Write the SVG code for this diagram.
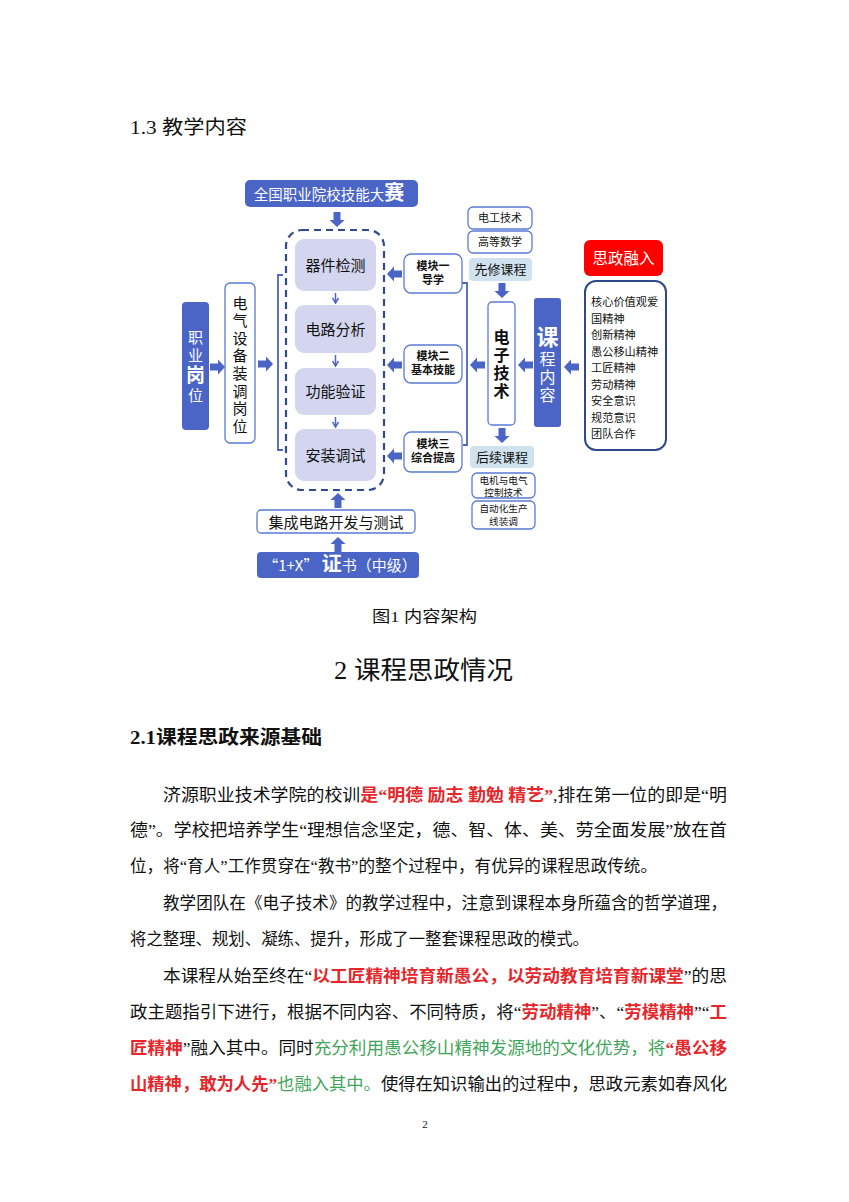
<svg xmlns="http://www.w3.org/2000/svg" width="849" height="1202" viewBox="0 0 849 1202">
<style>
.t{font-family:"Noto Sans CJK SC",sans-serif}
.v{writing-mode:vertical-rl}
.doc{font-family:"Liberation Serif","Noto Sans CJK SC",serif;fill:#111}
.blue{fill:#4a65c5}
.wbox{fill:#fff;stroke:#5a7ad6;stroke-width:1.3}
.lav{fill:#d3d6ee}
.lb{fill:#cfe2ee}
.arr{fill:#4a65c5}
.ln{fill:none;stroke:#4a65c5;stroke-width:1.8}
.red{fill:#e5262b;font-weight:bold}
.grn{fill:#3fa55b}
.w{fill:#fff}
.k{fill:#111}
</style>
<defs>
<path id="ar" d="M0,-3.5 H8 V-7.5 L15,0 L8,7.5 V3.5 H0 Z"/>
<marker id="sm" markerWidth="8" markerHeight="8" refX="6" refY="4" orient="auto" markerUnits="userSpaceOnUse">
<path d="M1,1 L6,4 L1,7" fill="none" stroke="#4a65c5" stroke-width="1.5"/>
</marker>
</defs>
<rect width="849" height="1202" fill="#fff"/>

<text class="doc" x="130" y="134" font-size="19" textLength="117" lengthAdjust="spacingAndGlyphs">1.3 教学内容</text>

<g id="banner-top">
<rect class="blue" x="245" y="180" width="173" height="27" rx="5"/>
<text class="t w" x="329" y="199.5" font-size="14.5" text-anchor="middle">全国职业院校技能大<tspan font-size="20" font-weight="bold">赛</tspan></text>
</g>
<g id="dashed-group">
<rect x="286" y="230" width="98" height="260" rx="16" fill="none" stroke="#2f4b8e" stroke-width="2.2" stroke-dasharray="7 5"/>
</g>
<g id="n-qjjc"><rect class="lav" x="295" y="239" width="81" height="52" rx="9"/><text class="t k" x="335.5" y="270.5" font-size="15" text-anchor="middle">器件检测</text></g>
<g id="n-dlfx"><rect class="lav" x="295" y="305" width="81" height="48" rx="9"/><text class="t k" x="335.5" y="334.5" font-size="15" text-anchor="middle">电路分析</text></g>
<g id="n-gnyz"><rect class="lav" x="295" y="368" width="81" height="47" rx="9"/><text class="t k" x="335.5" y="396.5" font-size="15" text-anchor="middle">功能验证</text></g>
<g id="n-azts"><rect class="lav" x="295" y="429" width="81" height="52" rx="9"/><text class="t k" x="335.5" y="460.5" font-size="15" text-anchor="middle">安装调试</text></g>

<g id="n-zygw">
<rect class="blue" x="182" y="302" width="27" height="128" rx="4"/>
<text class="t w v" x="195.5" y="329.5" font-size="15" letter-spacing="3">职业<tspan font-size="19" font-weight="bold">岗</tspan>位</text>
</g>
<g id="n-dqsb">
<rect class="wbox" x="225" y="283" width="30" height="160" rx="5"/>
<text class="t k v" x="240" y="295.5" font-size="15" letter-spacing="2.6">电气设备装调岗位</text>
</g>

<g id="n-mk1"><rect class="wbox" x="404" y="254" width="58" height="39" rx="7"/><text class="t k" text-anchor="middle" font-size="11" font-weight="bold"><tspan x="433" y="270">模块一</tspan><tspan x="433" y="284">导学</tspan></text></g>
<g id="n-mk2"><rect class="wbox" x="404" y="345" width="58" height="38" rx="7"/><text class="t k" text-anchor="middle" font-size="11" font-weight="bold"><tspan x="433" y="360">模块二</tspan><tspan x="433" y="374">基本技能</tspan></text></g>
<g id="n-mk3"><rect class="wbox" x="404" y="432" width="58" height="40" rx="7"/><text class="t k" text-anchor="middle" font-size="11" font-weight="bold"><tspan x="433" y="448">模块三</tspan><tspan x="433" y="462">综合提高</tspan></text></g>

<g id="n-dgjs"><rect class="wbox" x="468" y="207" width="64" height="22" rx="5"/><text class="t k" x="500" y="222" font-size="11" text-anchor="middle">电工技术</text></g>
<g id="n-gdsx"><rect class="wbox" x="468" y="231" width="64" height="22" rx="5"/><text class="t k" x="500" y="246" font-size="11" text-anchor="middle">高等数学</text></g>
<g id="n-xxkc"><rect class="lb" x="469" y="258" width="63" height="23" rx="4"/><text class="t k" x="500.5" y="274" font-size="13" text-anchor="middle">先修课程</text></g>
<g id="n-dzjs">
<rect class="wbox" x="488" y="302" width="27" height="123" rx="4"/>
<text class="t k v" x="501.5" y="329" font-size="16" font-weight="bold" letter-spacing="2">电子技术</text>
</g>
<g id="n-hxkc"><rect class="lb" x="470" y="446" width="64" height="22" rx="4"/><text class="t k" x="502" y="461.5" font-size="13" text-anchor="middle">后续课程</text></g>
<g id="n-djdq"><rect class="wbox" x="472" y="473" width="63" height="25" rx="5"/><text class="t k" text-anchor="middle" font-size="9.6"><tspan x="503.5" y="483.7">电机与电气</tspan><tspan x="503.5" y="496.2">控制技术</tspan></text></g>
<g id="n-zdh"><rect class="wbox" x="472" y="501" width="63" height="28" rx="5"/><text class="t k" text-anchor="middle" font-size="9.6"><tspan x="503.5" y="512.3">自动化生产</tspan><tspan x="503.5" y="525">线装调</tspan></text></g>

<g id="n-kcnr">
<rect class="blue" x="534" y="298" width="27" height="129" rx="3"/>
<text class="t w v" x="547.5" y="326" font-size="16" letter-spacing="2"><tspan font-size="22" font-weight="bold" letter-spacing="3">课</tspan>程内容</text>
</g>
<g id="n-szrr"><rect x="584" y="240" width="79" height="36" rx="6" fill="#ff0000"/><text class="t w" x="623.5" y="263.5" font-size="15.5" text-anchor="middle">思政融入</text></g>
<g id="n-values">
<rect x="585" y="281" width="81" height="169" rx="11" fill="#fff" stroke="#2e4a8c" stroke-width="2"/>
<text class="t k" font-size="11.2"><tspan x="591" y="306">核心价值观爱</tspan><tspan x="591" y="322.5">国精神</tspan><tspan x="591" y="339">创新精神</tspan><tspan x="591" y="355.5">愚公移山精神</tspan><tspan x="591" y="372">工匠精神</tspan><tspan x="591" y="388.5">劳动精神</tspan><tspan x="591" y="405">安全意识</tspan><tspan x="591" y="421.5">规范意识</tspan><tspan x="591" y="438">团队合作</tspan></text>
</g>

<g id="n-jcdl"><rect class="wbox" x="257" y="510" width="158" height="23" rx="4"/><text class="t k" x="336" y="527.5" font-size="15" text-anchor="middle">集成电路开发与测试</text></g>
<g id="n-zs"><rect class="blue" x="257" y="552" width="162" height="26" rx="4"/><text class="t w" x="340" y="571" font-size="15" text-anchor="middle">“1+X” <tspan font-size="20" font-weight="bold">证</tspan>书（中级）</text></g>

<g id="connectors">
<use href="#ar" class="arr" transform="translate(337,212) rotate(90)"/>
<use href="#ar" class="arr" transform="translate(210,367)"/>
<use href="#ar" class="arr" transform="translate(258,364)"/>
<use href="#ar" class="arr" transform="translate(402,274) rotate(180)"/>
<use href="#ar" class="arr" transform="translate(402,365) rotate(180)"/>
<use href="#ar" class="arr" transform="translate(402,456) rotate(180)"/>
<use href="#ar" class="arr" transform="translate(485,365) rotate(180)"/>
<use href="#ar" class="arr" transform="translate(533,365) rotate(180)"/>
<use href="#ar" class="arr" transform="translate(579,367) rotate(180)"/>
<use href="#ar" class="arr" transform="translate(502,283) rotate(90)"/>
<use href="#ar" class="arr" transform="translate(502,428) rotate(90)"/>
<use href="#ar" class="arr" transform="translate(338,508) rotate(-90)"/>
<use href="#ar" class="arr" transform="translate(338,552) rotate(-90)"/>
<line x1="335.5" y1="293" x2="335.5" y2="303" stroke="#4a65c5" stroke-width="1.5" marker-end="url(#sm)"/>
<line x1="335.5" y1="355" x2="335.5" y2="366" stroke="#4a65c5" stroke-width="1.5" marker-end="url(#sm)"/>
<line x1="335.5" y1="417" x2="335.5" y2="427" stroke="#4a65c5" stroke-width="1.5" marker-end="url(#sm)"/>
<path class="ln" d="M283,275 H278 V450 H283"/>
<path class="ln" d="M462,283 H467 V445 H463"/>
</g>

<text class="doc" x="372" y="622" font-size="15.5" textLength="105" lengthAdjust="spacingAndGlyphs">图1 内容架构</text>
<text class="doc" x="334" y="679" font-size="25" textLength="179" lengthAdjust="spacingAndGlyphs">2 课程思政情况</text>
<text class="doc" x="130" y="744" font-size="19" font-weight="bold" textLength="192" lengthAdjust="spacingAndGlyphs">2.1课程思政来源基础</text>

<g font-size="16.5">
<text class="doc" x="163" y="801" textLength="564" lengthAdjust="spacingAndGlyphs">济源职业技术学院的校训<tspan class="red">是“明德 励志 勤勉 精艺”</tspan>,排在第一位的即是“明</text>
<text class="doc" x="130" y="836" textLength="597" lengthAdjust="spacingAndGlyphs">德”。学校把培养学生“理想信念坚定，德、智、体、美、劳全面发展”放在首</text>
<text class="doc" x="130" y="872" textLength="527" lengthAdjust="spacingAndGlyphs">位，将“育人”工作贯穿在“教书”的整个过程中，有优异的课程思政传统。</text>
<text class="doc" x="163" y="909" textLength="564" lengthAdjust="spacingAndGlyphs">教学团队在《电子技术》的教学过程中，注意到课程本身所蕴含的哲学道理，</text>
<text class="doc" x="130" y="945" textLength="459" lengthAdjust="spacingAndGlyphs">将之整理、规划、凝练、提升，形成了一整套课程思政的模式。</text>
<text class="doc" x="163" y="982" textLength="564" lengthAdjust="spacingAndGlyphs">本课程从始至终在“<tspan class="red">以工匠精神培育新愚公，以劳动教育培育新课堂</tspan>”的思</text>
<text class="doc" x="130" y="1018" textLength="597" lengthAdjust="spacingAndGlyphs">政主题指引下进行，根据不同内容、不同特质，将“<tspan class="red">劳动精神</tspan>”、“<tspan class="red">劳模精神</tspan>”“<tspan class="red">工</tspan></text>
<text class="doc" x="130" y="1054" textLength="597" lengthAdjust="spacingAndGlyphs"><tspan class="red">匠精神</tspan>”融入其中。同时<tspan class="grn">充分利用愚公移山精神发源地的文化优势，将</tspan><tspan class="red">“愚公移</tspan></text>
<text class="doc" x="130" y="1090" textLength="597" lengthAdjust="spacingAndGlyphs"><tspan class="red">山精神，敢为人先”</tspan><tspan class="grn">也融入其中。</tspan>使得在知识输出的过程中，思政元素如春风化</text>
</g>
<text class="doc" x="425" y="1128" font-size="11" text-anchor="middle">2</text>
</svg>
